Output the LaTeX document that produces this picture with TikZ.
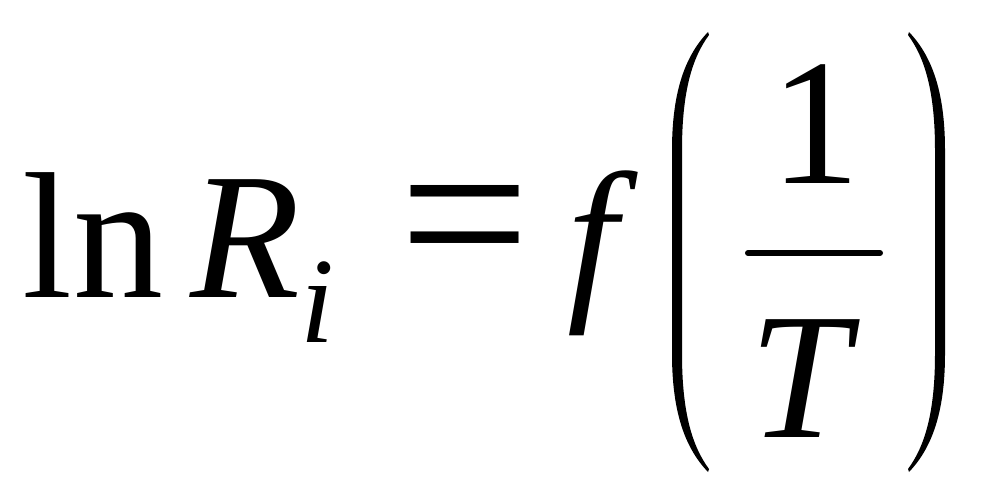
\documentclass[tikz,border=0pt]{standalone}
\usepackage{fontspec}
\setmainfont{Liberation Serif}
\usepackage{tikz}

\begin{document}
\begin{tikzpicture}[x=1pt,y=-1pt]
\tikzstyle{every node}=[inner sep=0pt, outer sep=0pt, font=\fontsize{180}{180}\selectfont]
\tikzstyle{sub}=[font=\fontsize{122}{122}\selectfont\itshape]
\useasboundingbox (0,0) rectangle (993,503);
\draw (23,297) node (ln) [anchor=base west] {ln};
\draw (190,297) node (R) [anchor=base west, font=\fontsize{180}{180}\selectfont\itshape] {R};
\draw (300,342) node (i) [anchor=base west, sub] {i};
\draw (465,291) node (eq) [anchor=base, font=\fontsize{232}{232}\selectfont] {=};
\draw (592,297) node (f) [anchor=base, font=\fontsize{180}{180}\selectfont\itshape] {f};
\draw (815,183) node (one) [anchor=base] {1};
\draw (800,437) node (T) [anchor=base, font=\fontsize{180}{180}\selectfont\itshape] {T};
% fraction bar
\draw[line width=6pt, line cap=round] (748,253) -- (880,253);
% parentheses
\fill (708,32) .. controls (686,55) and (672,90) .. (672,150) -- (672,354)
  .. controls (672,414) and (686,449) .. (708,472) -- (709,469)
  .. controls (692,446) and (682,412) .. (682,354) -- (682,150)
  .. controls (682,92) and (692,58) .. (709,35) -- cycle;
\fill (909,32) .. controls (931,55) and (945,90) .. (945,150) -- (945,354)
  .. controls (945,414) and (931,449) .. (909,472) -- (908,469)
  .. controls (925,446) and (935,412) .. (935,354) -- (935,150)
  .. controls (935,92) and (925,58) .. (908,35) -- cycle;
\end{tikzpicture}
\end{document}
